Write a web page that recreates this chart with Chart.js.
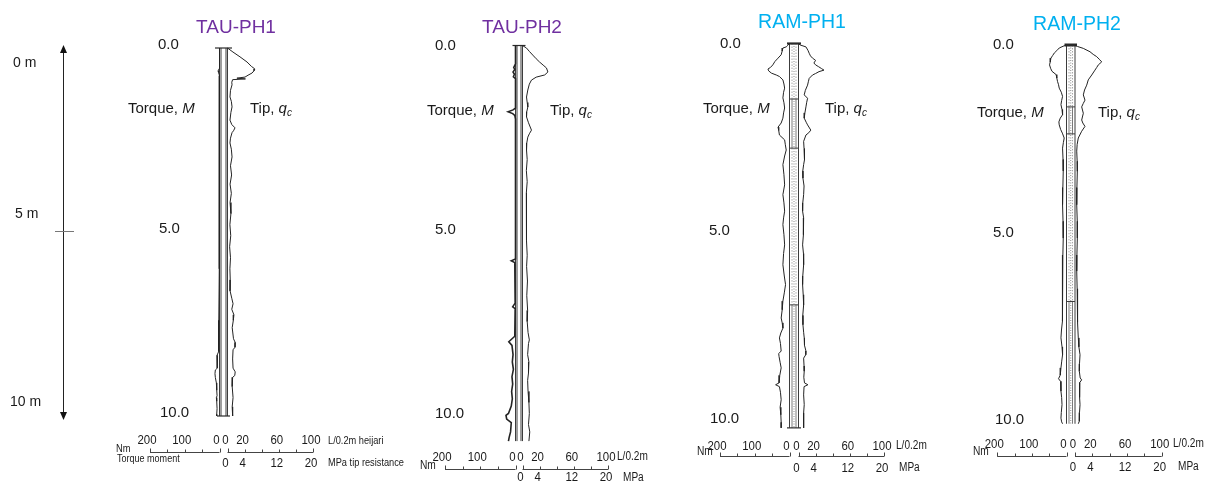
<!DOCTYPE html>
<html>
<head>
<meta charset="utf-8">
<title>Sounding profiles TAU / RAM</title>
<script src="https://cdn.jsdelivr.net/npm/chart.js@4.4.1/dist/chart.umd.min.js"></script>
<style>
    html, body { margin: 0; padding: 0; background: #fff; }
    #wrap { position: relative; width: 1205px; height: 484px; overflow: hidden; }
    #wrap canvas { position: absolute; top: 0; }
</style>
</head>
<body>
<div id="wrap"></div>
<script>
// Depth in m, torque M in Nm, tip resistance q_c in L/0.2m (100 L/0.2m = 20 MPa)

// TAU-PH1
const tauPh1TorqueDepth = [0, 0.55, 0.62, 0.66, 0.75, 2.0, 4.0, 6.0, 7.4, 7.9, 8.25, 8.35, 8.5, 8.7, 8.75, 8.85, 8.95, 9.1, 9.3, 9.45, 9.5, 9.6, 9.8, 9.95, 10.0];
const tauPh1Torque      = [0, 0, 4, 3, 0, 0, 1, 1, 2, 2, 3, 7, 6, 7, 12, 13, 12, 9, 8, 7, 9, 8, 7, 8, 8];
const tauPh1TipDepth = [0, 0.11, 0.24, 0.38, 0.5, 0.57, 0.62, 0.68, 0.74, 0.79, 0.82, 0.84, 0.86, 0.93, 1.0, 1.15, 1.33, 1.45, 1.6, 1.75,
    1.96, 2.08, 2.17, 2.25, 2.3, 2.45, 2.58, 2.75, 2.96, 3.2, 3.45, 3.7, 3.95, 4.2, 4.5, 4.8, 5.1, 5.4, 5.7, 6.0,
    6.3, 6.6, 6.8, 6.95, 7.1, 7.25, 7.4, 7.6, 7.9, 8.0, 8.13, 8.2, 8.45, 8.7, 8.8, 8.9, 8.95, 9.2, 9.5, 9.75, 10.0];
const tauPh1Tip = [0, 6.4, 14.6, 22.8, 28, 32, 31, 28.7, 24, 20.5, 11, 21, 6, 5, 5.3, 3.5, 2.9, 4.5, 5.3, 4,
    2.9, 5, 8.8, 7, 5.3, 3.5, 2.9, 4.5, 5.3, 3.5, 4.8, 3, 4.5, 3, 4, 2.8, 3.8, 2.5, 3.5, 2.8,
    3.2, 3, 5, 6.5, 5, 7.5, 6.8, 5.5, 7, 9, 8.8, 6.5, 6, 6.5, 9, 8.5, 6, 5.5, 6.5, 5.5, 6];

// TAU-PH2
const tauPh2TorqueDepth = [0, 0.5, 0.6, 0.65, 0.72, 0.78, 0.85, 0.9, 1.7, 1.75, 1.8, 1.85, 1.9, 2.0, 5.8, 5.85, 5.9, 7.0, 7.1, 7.15,
    7.9, 8.05, 8.15, 8.4, 8.6, 8.8, 9.0, 9.2, 9.4, 9.6, 9.8, 10.0, 10.05, 10.15, 10.25, 10.5, 10.65, 10.75];
const tauPh2Torque = [0, 0, 5, 2, 7, 3, 6, 0, 0, 7, 21, 8, 2, 0, 0, 12, 2, 1, 8, 1,
    2, 19, 10, 7, 9, 6, 10, 8, 11, 9, 12, 20, 27, 25, 12, 14, 18, 20];
const tauPh2TipDepth = [0, 0.07, 0.16, 0.26, 0.36, 0.45, 0.55, 0.61, 0.72, 0.8, 0.86, 0.94, 1.05, 1.21, 1.4, 1.55, 1.67, 1.8, 1.94, 2.1,
    2.3, 2.4, 2.49, 2.65, 2.84, 3.1, 3.4, 3.7, 4.0, 4.3, 4.6, 5.0, 5.3, 5.7, 6.0, 6.4, 6.8, 7.2, 7.5, 7.8,
    8.0, 8.1, 8.4, 8.6, 8.9, 9.1, 9.4, 9.7, 10.0, 10.3, 10.5, 10.75];
const tauPh2Tip = [0, 4.7, 8, 12, 16, 20, 25, 28, 29.7, 26, 16, 10.5, 8, 6.2, 4.7, 5.5, 6.2, 5, 4.7, 7,
    10.5, 8, 6.2, 5, 4.7, 5.5, 4.5, 5.5, 4.5, 5, 4.2, 5, 4.5, 5.5, 4.8, 5.8, 5, 6, 5.5, 6.5,
    8, 7, 6, 7.5, 7, 6, 6.5, 7.5, 8, 7, 8.5, 7.5];

// RAM-PH1
const ramPh1TorqueDepth = [0, 0.05, 0.09, 0.12, 0.2, 0.3, 0.39, 0.48, 0.57, 0.64, 0.68, 0.73, 0.79, 0.84, 0.88, 0.97, 1.08, 1.19, 1.3, 1.45,
    1.58, 1.72, 1.85, 1.99, 2.12, 2.23, 2.32, 2.44, 2.57, 2.7, 2.84, 3.0, 3.23, 3.5, 3.77, 4.03, 4.25, 4.47, 4.65, 4.83,
    5.1, 5.37, 5.6, 5.9, 6.2, 6.43, 6.65, 6.87, 7.1, 7.32, 7.45, 7.59, 7.72, 7.85, 8.0, 8.2, 8.27, 8.35, 8.5, 8.65,
    8.85, 9.05, 9.1, 9.15, 9.3, 9.5, 9.7, 9.9, 10.1, 10.25];
const ramPh1Torque = [0, 5, 9.4, 19, 21, 24, 33, 42, 48, 55, 62, 60, 52, 38, 29, 19, 16, 14, 17, 19,
    16, 14, 17, 19, 24, 33, 31, 29, 14, 12, 9.4, 14, 19, 16, 14, 19, 16, 14, 17, 19,
    16, 14, 17, 19, 15, 11.4, 15, 19, 21, 24, 21, 19, 25, 29, 26, 24, 31, 30, 27, 24,
    28, 30, 40, 29, 26, 24, 27, 25, 24, 24];
const ramPh1TipDepth = [0, 0.04, 0.09, 0.18, 0.26, 0.33, 0.39, 0.45, 0.52, 0.57, 0.62, 0.67, 0.71, 0.75, 0.8, 0.84, 0.93, 1.02, 1.11, 1.25,
    1.37, 1.46, 1.58, 1.69, 1.85, 1.99, 2.1, 2.17, 2.31, 2.38, 2.44, 2.61, 2.8, 2.97, 3.1, 3.23, 3.4, 3.59, 3.8, 4.03,
    4.25, 4.47, 4.65, 4.83, 5.1, 5.37, 5.6, 5.9, 6.2, 6.43, 6.7, 6.97, 7.25, 7.5, 7.7, 7.85, 8.05, 8.2, 8.3, 8.39,
    8.6, 8.74, 8.9, 9.05, 9.1, 9.15, 9.37, 9.63, 9.85, 10.07, 10.25];
const ramPh1Tip = [0, 2, 8.7, 11, 12.5, 14, 16.4, 20, 18, 20, 23.6, 27, 29.8, 24, 20, 16.4, 12.5, 11.5, 10.6, 8,
    6.7, 10.6, 9.5, 8.7, 7.5, 6.7, 9, 10.6, 14.4, 12, 8.7, 6, 6.5, 7.5, 6.5, 6, 5, 5.2, 6.5, 6,
    5, 4.8, 6, 6, 5.5, 4.8, 5.8, 6, 5, 4.8, 5.5, 6, 5, 5.2, 6, 6.7, 7, 8.7, 8.5, 6,
    6.5, 6.7, 6.2, 7, 11, 6.5, 6, 6.7, 6, 6, 6];
const ramPh1RodJoints = [1.48, 2.79, 6.97];

// RAM-PH2
const ramPh2TorqueDepth = [0, 0.02, 0.08, 0.15, 0.21, 0.28, 0.35, 0.45, 0.53, 0.62, 0.7, 0.79, 0.88, 0.97, 1.06, 1.15, 1.26, 1.37, 1.48, 1.59,
    1.72, 1.86, 1.95, 2.05, 2.13, 2.25, 2.35, 2.48, 2.6, 2.75, 3.05, 3.36, 3.8, 4.26, 4.7, 5.15, 5.6, 6.03, 6.5, 6.93,
    7.15, 7.36, 7.6, 7.81, 8.05, 8.26, 8.45, 8.61, 8.8, 8.9, 8.97, 9.23, 9.4, 9.59, 9.8, 9.95, 10.05, 10.1];
const ramPh2Torque = [0, 6.6, 21, 28, 35, 40, 45, 47, 49, 46, 42, 30, 28, 26, 23, 21, 15, 11.4, 14, 16,
    13, 11.4, 18, 22, 21, 17, 12, 6.6, 9, 11.4, 10, 9.4, 10.5, 11.4, 10, 9.4, 10.5, 11.4, 10.5, 11.4,
    12, 13, 14.5, 16, 13, 11.4, 14, 16, 18, 23, 17, 16, 14, 13, 15, 16, 14, 11.4];
const ramPh2TipDepth = [0, 0.04, 0.09, 0.18, 0.25, 0.31, 0.38, 0.45, 0.53, 0.6, 0.67, 0.8, 0.93, 1.07, 1.2, 1.33, 1.47, 1.56, 1.65, 1.82,
    2.0, 2.08, 2.17, 2.3, 2.48, 2.65, 2.83, 3.1, 3.37, 3.8, 4.26, 4.7, 5.15, 5.6, 6.03, 6.5, 6.93, 7.4, 7.81, 8.05,
    8.26, 8.5, 8.7, 8.88, 8.93, 9.0, 9.23, 9.4, 9.59, 9.8, 10.03, 10.1];
const ramPh2Tip = [0, 3, 9.6, 17.3, 21, 25, 28, 30.8, 26.9, 25, 23, 19.3, 15.3, 13.5, 11, 9.6, 11.5, 9.5, 7.7, 9.6,
    7.7, 9, 11.5, 7.7, 3.8, 2.5, 2, 2.5, 2.7, 2.2, 2, 2.6, 2.7, 2.2, 2, 2.5, 2.7, 3.2, 3.8, 4.5,
    5.8, 5.2, 5, 6, 7.7, 5.5, 5, 5.6, 5.8, 5.2, 5, 3.8];
const ramPh2RodJoints = [1.65, 2.37, 6.84];

// axis ticks and labels
const depthTicks = [0, 5, 10];
const torqueTicks = [0, 50, 100, 150, 200];
const tipTicks = [0, 20, 40, 60, 80, 100];
const torqueTickLabels = [200, 100, 0];
const tipTickLabels = [0, 20, 60, 100];
const mpaTickLabels = [0, 4, 12, 20];
const TIP_PER_MPA = 5;   // 20 MPa on the same length as 100 L/0.2m

const FONT = '"Liberation Sans", Arial, sans-serif';
const H = 484;

const panels = [
    {
        title: 'TAU-PH1', color: '#7030A0', left: 0, width: 410, titleX: 236, titleY: 28, titleSize: 19,
        depth0: 48, depth10: 416, labelX: [158, 159, 160], labelDy: -3,
        torqueZero: 219.5, kT: 0.3475, tipZero: 227.5, kQ: 0.855,
        axisY: 452, row1Y: 440, row2Y: 463, unitSize: 11,
        torqueText: [128, 109], tipText: [250, 109],
        nm: [116, 449], torqueUnit: ['Torque moment', 117, 459],
        tipUnit: ['L/0.2m heijari', 328, 441], mpaUnit: ['MPa tip resistance', 328, 463],
        rod: 'tau', joints: [], capExt: 4.5, capWidth: 1.2, capBottom: true, torqueWidth: 1,
        torqueDepth: tauPh1TorqueDepth, torque: tauPh1Torque, tipDepth: tauPh1TipDepth, tip: tauPh1Tip,
        arrow: true
    },
    {
        title: 'TAU-PH2', color: '#7030A0', left: 410, width: 280, titleX: 522, titleY: 28, titleSize: 19,
        depth0: 45.5, depth10: 413.5, labelX: [435, 435, 435], labelDy: 0,
        torqueZero: 515.5, kT: 0.3525, tipZero: 522.5, kQ: 0.855,
        axisY: 469, row1Y: 457, row2Y: 477.5, unitSize: 12,
        torqueText: [427, 111], tipText: [550, 111],
        nm: [420, 466], torqueUnit: null,
        tipUnit: ['L/0.2m', 617, 457], mpaUnit: ['MPa', 623, 477.5],
        rod: 'tau', joints: [], capExt: 3, capWidth: 1.2, capBottom: false, torqueWidth: 1.6,
        torqueDepth: tauPh2TorqueDepth, torque: tauPh2Torque, tipDepth: tauPh2TipDepth, tip: tauPh2Tip
    },
    {
        title: 'RAM-PH1', color: '#00B0F0', left: 690, width: 275, titleX: 802, titleY: 23, titleSize: 19.5,
        depth0: 43.5, depth10: 418.5, labelX: [720, 709, 710], labelDy: 0,
        torqueZero: 789.5, kT: 0.3475, tipZero: 798.5, kQ: 0.855,
        axisY: 456, row1Y: 446, row2Y: 468, unitSize: 12,
        torqueText: [703, 109], tipText: [825, 109],
        nm: [697, 452], torqueUnit: null,
        tipUnit: ['L/0.2m', 896, 446], mpaUnit: ['MPa', 899, 468],
        rod: 'ram', joints: ramPh1RodJoints, capExt: 2.5, capWidth: 2.2, capBottom: true, torqueWidth: 1,
        torqueDepth: ramPh1TorqueDepth, torque: ramPh1Torque, tipDepth: ramPh1TipDepth, tip: ramPh1Tip
    },
    {
        title: 'RAM-PH2', color: '#00B0F0', left: 965, width: 240, titleX: 1077, titleY: 25, titleSize: 19.5,
        depth0: 45, depth10: 420, labelX: [993, 993, 995], labelDy: 0,
        torqueZero: 1066.5, kT: 0.346, tipZero: 1075, kQ: 0.867,
        axisY: 456, row1Y: 444, row2Y: 467, unitSize: 12,
        torqueText: [977, 113], tipText: [1098, 113],
        nm: [973, 452], torqueUnit: null,
        tipUnit: ['L/0.2m', 1173, 444], mpaUnit: ['MPa', 1178, 467],
        rod: 'ram', joints: ramPh2RodJoints, capExt: 2, capWidth: 3, capBottom: false, torqueWidth: 1,
        torqueDepth: ramPh2TorqueDepth, torque: ramPh2Torque, tipDepth: ramPh2TipDepth, tip: ramPh2Tip
    }
];

function pairs(xs, ys) {
    return xs.map((v, i) => ({ x: v, y: ys[i] }));
}

// Maps the panel's pixel geometry onto hidden linear scales
function panelScales(p) {
    const W = p.width;
    const t0 = p.torqueZero - p.left;
    const q0 = p.tipZero - p.left;
    const sy = (p.depth10 - p.depth0) / 10;
    const tMin = -(W - t0) / p.kT;
    const qMin = -q0 / p.kQ;
    const yMin = -p.depth0 / sy;
    return {
        xT: { type: 'linear', display: false, bounds: 'data', reverse: true, min: tMin, max: tMin + W / p.kT },
        xQ: { type: 'linear', display: false, bounds: 'data', min: qMin, max: qMin + W / p.kQ },
        y: { type: 'linear', display: false, bounds: 'data', reverse: true, min: yMin, max: yMin + H / sy }
    };
}

function label(ctx, str, x, y, font, opt = {}) {
    ctx.save();
    ctx.font = font;
    ctx.fillStyle = opt.color || '#1a1a1a';
    ctx.textAlign = opt.align || 'left';
    ctx.textBaseline = 'middle';
    ctx.translate(x, y);
    ctx.scale(opt.sx || 1, 1);
    ctx.fillText(str, 0, 0);
    ctx.restore();
}

function vline(ctx, x, a, b) {
    ctx.beginPath(); ctx.moveTo(x, a); ctx.lineTo(x, b); ctx.stroke();
}
function hline(ctx, a, b, y) {
    ctx.beginPath(); ctx.moveTo(a, y); ctx.lineTo(b, y); ctx.stroke();
}

// probe rod between the two zero lines, caps and joints
function drawRod(chart, p) {
    const { ctx, scales } = chart;
    const t0 = scales.xT.getPixelForValue(0);
    const q0 = scales.xQ.getPixelForValue(0);
    const yTop = scales.y.getPixelForValue(0);
    const yEnd = scales.y.getPixelForValue(p.end);
    ctx.save();
    ctx.lineWidth = 1;
    ctx.strokeStyle = '#3c3c3c';
    if (p.rod === 'tau') {
        vline(ctx, t0, yTop, yEnd);
        vline(ctx, t0 + 1.5, yTop, yEnd);
        vline(ctx, q0 - 1.5, yTop, yEnd);
        vline(ctx, q0, yTop, yEnd);
    } else {
        const cuts = [0, ...p.joints, p.end].map(d => scales.y.getPixelForValue(d));
        for (let i = 0; i < cuts.length - 1; i++) {
            ctx.strokeStyle = i % 2 ? '#7a7a7a' : '#a8a8a8';
            ctx.setLineDash(i % 2 ? [] : [1.5, 1.5]);
            vline(ctx, t0 + 2.5, cuts[i], cuts[i + 1]);
            vline(ctx, q0 - 2.5, cuts[i], cuts[i + 1]);
        }
        ctx.setLineDash([1, 1.5]);
        ctx.strokeStyle = '#8a8a8a';
        vline(ctx, (t0 + q0) / 2, yTop, yEnd);
        ctx.setLineDash([]);
        ctx.strokeStyle = '#3c3c3c';
        vline(ctx, t0, yTop, yEnd);
        vline(ctx, q0, yTop, yEnd);
        p.joints.forEach(d => hline(ctx, t0, q0, scales.y.getPixelForValue(d)));
    }
    ctx.strokeStyle = '#2a2a2a';
    ctx.lineWidth = p.capWidth;
    hline(ctx, t0 - p.capExt, q0 + p.capExt, yTop);
    if (p.capBottom) {
        ctx.lineWidth = 1.2;
        hline(ctx, t0 - 2.5, q0 + 2.5, yEnd);
    }
    ctx.restore();
}

function drawFrame(chart, p) {
    const { ctx, scales } = chart;
    const L = p.left;
    const sx = v => v - L;

    // title
    label(ctx, p.title, sx(p.titleX), p.titleY, `${p.titleSize}px ${FONT}`, { color: p.color, align: 'center' });

    // depth labels
    depthTicks.forEach((d, i) => {
        label(ctx, d.toFixed(1), sx(p.labelX[i]), scales.y.getPixelForValue(d) + p.labelDy, `15px ${FONT}`);
    });

    // curve names
    ctx.save();
    ctx.fillStyle = '#1a1a1a';
    ctx.textBaseline = 'middle';
    let [x, y] = [sx(p.torqueText[0]), p.torqueText[1]];
    ctx.font = `15px ${FONT}`;
    ctx.fillText('Torque, ', x, y);
    x += ctx.measureText('Torque, ').width;
    ctx.font = `italic 15px ${FONT}`;
    ctx.fillText('M', x, y);
    [x, y] = [sx(p.tipText[0]), p.tipText[1]];
    ctx.font = `15px ${FONT}`;
    ctx.fillText('Tip, ', x, y);
    x += ctx.measureText('Tip, ').width;
    ctx.font = `italic 15px ${FONT}`;
    ctx.fillText('q', x, y);
    x += ctx.measureText('q').width;
    ctx.font = `italic 10px ${FONT}`;
    ctx.fillText('c', x, y + 4);
    ctx.restore();

    // bottom axes: torque to the left, tip resistance to the right
    const ay = Math.round(p.axisY) + 0.5;
    const xT = v => scales.xT.getPixelForValue(v);
    const xQ = v => scales.xQ.getPixelForValue(v);
    ctx.save();
    ctx.strokeStyle = '#444';
    ctx.lineWidth = 1;
    hline(ctx, xT(200), xT(0), ay);
    hline(ctx, xQ(0), xQ(100), ay);
    torqueTicks.forEach((v, i) => {
        const len = (i === 0 || i === torqueTicks.length - 1) ? 4 : 3;
        vline(ctx, Math.round(xT(v)) + 0.5, ay, ay - len);
    });
    tipTicks.forEach((v, i) => {
        const len = (i === 0 || i === tipTicks.length - 1) ? 4 : 3;
        vline(ctx, Math.round(xQ(v)) + 0.5, ay, ay - len);
    });
    ctx.restore();

    const tickFont = `13px ${FONT}`;
    const tickOpt = { align: 'center', sx: 0.88 };
    torqueTickLabels.forEach(v => label(ctx, String(v), xT(v) - 3, p.row1Y, tickFont, tickOpt));
    tipTickLabels.forEach(v => label(ctx, String(v), xQ(v) - 2, p.row1Y, tickFont, tickOpt));
    mpaTickLabels.forEach(v => label(ctx, String(v), xQ(v * TIP_PER_MPA) - 2, p.row2Y, tickFont, tickOpt));

    const unitFont = `${p.unitSize}px ${FONT}`;
    label(ctx, 'Nm', sx(p.nm[0]), p.nm[1], unitFont, { sx: 0.85 });
    if (p.torqueUnit) label(ctx, p.torqueUnit[0], sx(p.torqueUnit[1]), p.torqueUnit[2], unitFont, { sx: 0.82 });
    label(ctx, p.tipUnit[0], sx(p.tipUnit[1]), p.tipUnit[2], unitFont, { sx: 0.84 });
    label(ctx, p.mpaUnit[0], sx(p.mpaUnit[1]), p.mpaUnit[2], unitFont, { sx: 0.84 });

    // overall depth arrow
    if (p.arrow) {
        const ax = 63.5;
        const yA = scales.y.getPixelForValue(0) - 3;
        const yB = scales.y.getPixelForValue(10) + 4;
        ctx.save();
        ctx.strokeStyle = '#222';
        ctx.fillStyle = '#111';
        ctx.lineWidth = 1;
        vline(ctx, ax, yA + 6, yB - 6);
        ctx.beginPath(); ctx.moveTo(ax, yA); ctx.lineTo(ax - 3.5, yA + 8); ctx.lineTo(ax + 3.5, yA + 8); ctx.closePath(); ctx.fill();
        ctx.beginPath(); ctx.moveTo(ax, yB); ctx.lineTo(ax - 3.5, yB - 8); ctx.lineTo(ax + 3.5, yB - 8); ctx.closePath(); ctx.fill();
        ctx.strokeStyle = '#777';
        hline(ctx, 55, 74, Math.round(scales.y.getPixelForValue(5)) - 0.5);
        ctx.restore();
        label(ctx, '0 m', 13, 63, `14px ${FONT}`);
        label(ctx, '5 m', 15, 214, `14px ${FONT}`);
        label(ctx, '10 m', 10, 402, `14px ${FONT}`);
    }
}

const wrap = document.getElementById('wrap');
const lineStyle = { showLine: true, pointRadius: 0, borderColor: '#232323', borderWidth: 1, tension: 0, fill: false };

panels.forEach(p => {
    p.end = Math.max(p.torqueDepth[p.torqueDepth.length - 1], p.tipDepth[p.tipDepth.length - 1]);

    const cv = document.createElement('canvas');
    cv.width = p.width;
    cv.height = H;
    cv.style.left = p.left + 'px';
    cv.style.width = p.width + 'px';
    cv.style.height = H + 'px';
    wrap.appendChild(cv);

    new Chart(cv, {
        type: 'scatter',
        data: {
            datasets: [
                { label: 'Torque', data: pairs(p.torque, p.torqueDepth), xAxisID: 'xT', yAxisID: 'y', ...lineStyle, borderWidth: p.torqueWidth },
                { label: 'Tip', data: pairs(p.tip, p.tipDepth), xAxisID: 'xQ', yAxisID: 'y', ...lineStyle }
            ]
        },
        options: {
            responsive: false,
            animation: false,
            devicePixelRatio: 1,
            events: [],
            layout: { padding: 0, autoPadding: false },
            scales: panelScales(p),
            plugins: { legend: { display: false }, tooltip: { enabled: false }, title: { display: false } }
        },
        plugins: [{
            id: 'profileDecor',
            beforeDatasetsDraw(chart) { drawRod(chart, p); },
            afterDatasetsDraw(chart) { drawFrame(chart, p); }
        }]
    });
});
</script>
</body>
</html>
